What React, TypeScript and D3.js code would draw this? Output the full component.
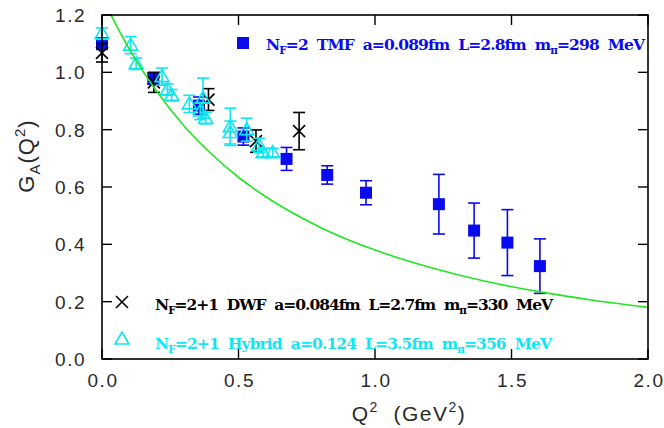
import React from "react";
import * as d3 from "d3";

// Axial form factor G_A(Q^2) from three lattice ensembles plus a dipole curve.
const TMF_Q2 = [0.0, 0.188, 0.355, 0.518, 0.676, 0.825, 0.967, 1.234, 1.363, 1.485, 1.604];
const TMF_GA = [1.10, 0.978, 0.884, 0.776, 0.698, 0.642, 0.580, 0.540, 0.448, 0.406, 0.324];
const TMF_ERR = [0.02, 0.02, 0.03, 0.03, 0.04, 0.032, 0.042, 0.104, 0.096, 0.115, 0.095];

const DWF_Q2 = [0.0, 0.19, 0.39, 0.564, 0.722];
const DWF_GA = [1.068, 0.965, 0.905, 0.76, 0.795];
const DWF_ERR = [0.032, 0.035, 0.038, 0.039, 0.065];

const HYB_Q2 = [0.0, 0.105, 0.125, 0.22, 0.24, 0.255, 0.32, 0.37, 0.36, 0.38, 0.47, 0.47, 0.53, 0.575, 0.59, 0.625];
const HYB_GA = [1.135, 1.095, 1.03, 0.985, 0.94, 0.92, 0.89, 0.91, 0.865, 0.84, 0.81, 0.79, 0.80, 0.745, 0.72, 0.72];
const HYB_ERR = [0.02, 0.03, 0.02, 0.03, 0.02, 0.02, 0.03, 0.07, 0.03, 0.02, 0.065, 0.04, 0.04, 0.025, 0.015, 0.015];

const CURVE_Q2 = [0.033, 0.1, 0.2, 0.3, 0.4, 0.5, 0.6, 0.8, 1.0, 1.2, 1.4, 1.6, 1.8, 2.0];
const CURVE_GA = [1.2, 1.081, 0.934, 0.814, 0.716, 0.634, 0.566, 0.459, 0.38, 0.32, 0.272, 0.235, 0.205, 0.18];

const X_TICKS = [0, 0.5, 1.0, 1.5, 2.0];
const Y_TICKS = [0, 0.2, 0.4, 0.6, 0.8, 1.0, 1.2];

const W = 664;
const H = 428;
const LEFT = 102;
const RIGHT = 648;
const TOP = 15;
const BOTTOM = 359;

const BLUE = "#0a0af0";
const CYAN = "#10e6f0";
const GREEN = "#22e622";

const x = d3.scaleLinear().domain([0, 2]).range([LEFT, RIGHT]);
const y = d3.scaleLinear().domain([0, 1.2]).range([BOTTOM, TOP]);

const curvePath = d3
  .line<number>()
  .x((_, i) => x(CURVE_Q2[i]))
  .y((_, i) => y(CURVE_GA[i]))
  .curve(d3.curveMonotoneX)(CURVE_GA) as string;

const CAP = 6;

function ErrBar({ q, g, e, color }: { q: number; g: number; e: number; color: string }) {
  const cx = x(q);
  const y1 = y(g + e);
  const y2 = y(g - e);
  return (
    <g stroke={color} strokeWidth={1.6}>
      <line x1={cx} x2={cx} y1={y1} y2={y2} />
      <line x1={cx - CAP} x2={cx + CAP} y1={y1} y2={y1} />
      <line x1={cx - CAP} x2={cx + CAP} y1={y2} y2={y2} />
    </g>
  );
}

const triPath = (cx: number, cy: number) =>
  `M${cx},${cy - 7}L${cx + 7},${cy + 5}L${cx - 7},${cy + 5}Z`;
const crossPath = (cx: number, cy: number) =>
  `M${cx - 6},${cy - 6}L${cx + 6},${cy + 6}M${cx - 6},${cy + 6}L${cx + 6},${cy - 6}`;

const legendFont = "'DejaVu Serif', 'Liberation Serif', serif";
const axisFont = "'Liberation Sans', Arial, sans-serif";

function LegendText({
  px,
  py,
  pre,
  mid,
  color,
  len,
}: {
  px: number;
  py: number;
  pre: string;
  mid: string;
  color: string;
  len: number;
}) {
  return (
    <text
      x={px}
      y={py}
      fill={color}
      fontFamily={legendFont}
      fontWeight="bold"
      fontSize={15.5}
      style={{ whiteSpace: "pre" }}
      textLength={len}
      lengthAdjust="spacing"
    >
      <tspan>N</tspan>
      <tspan fontSize={10.5} dy={4}>F</tspan>
      <tspan dy={-4}>{pre}</tspan>
      <tspan>m</tspan>
      <tspan fontSize={10.5} dy={4}>π</tspan>
      <tspan dy={-4}>{mid}</tspan>
    </text>
  );
}

export default function App() {
  return (
    <svg
      width={W}
      height={H}
      viewBox={`0 0 ${W} ${H}`}
      style={{ position: "absolute", left: 0, top: 0, background: "#fff" }}
    >
      <defs>
        <clipPath id="plot">
          <rect x={LEFT} y={TOP} width={RIGHT - LEFT} height={BOTTOM - TOP} />
        </clipPath>
      </defs>

      {/* TMF squares */}
      <g>
        {TMF_Q2.map((q, i) => (
          <ErrBar key={"te" + i} q={q} g={TMF_GA[i]} e={TMF_ERR[i]} color={BLUE} />
        ))}
        {TMF_Q2.map((q, i) => (
          <rect key={"ts" + i} x={x(q) - 6} y={y(TMF_GA[i]) - 6} width={12} height={12} fill={BLUE} />
        ))}
      </g>

      {/* DWF crosses */}
      <g>
        {DWF_Q2.map((q, i) => (
          <ErrBar key={"de" + i} q={q} g={DWF_GA[i]} e={DWF_ERR[i]} color="#000" />
        ))}
        {DWF_Q2.map((q, i) => (
          <path key={"dx" + i} d={crossPath(x(q), y(DWF_GA[i]))} stroke="#000" strokeWidth={1.6} fill="none" />
        ))}
      </g>

      {/* Hybrid triangles */}
      <g>
        {HYB_Q2.map((q, i) => (
          <ErrBar key={"he" + i} q={q} g={HYB_GA[i]} e={HYB_ERR[i]} color={CYAN} />
        ))}
        {HYB_Q2.map((q, i) => (
          <path key={"ht" + i} d={triPath(x(q), y(HYB_GA[i]))} stroke={CYAN} strokeWidth={1.6} fill="none" />
        ))}
      </g>

      {/* dipole curve */}
      <path d={curvePath} fill="none" stroke={GREEN} strokeWidth={1.6} clipPath="url(#plot)" />

      {/* frame and inward ticks */}
      <rect x={LEFT} y={TOP} width={RIGHT - LEFT} height={BOTTOM - TOP} fill="none" stroke="#000" strokeWidth={1.6} />
      {X_TICKS.map((t) => (
        <g key={"xt" + t} stroke="#000" strokeWidth={1.4}>
          <line x1={x(t)} x2={x(t)} y1={BOTTOM} y2={BOTTOM - 10} />
          <line x1={x(t)} x2={x(t)} y1={TOP} y2={TOP + 10} />
        </g>
      ))}
      {Y_TICKS.map((t) => (
        <g key={"yt" + t} stroke="#000" strokeWidth={1.4}>
          <line x1={LEFT} x2={LEFT + 10} y1={y(t)} y2={y(t)} />
          <line x1={RIGHT} x2={RIGHT - 10} y1={y(t)} y2={y(t)} />
        </g>
      ))}

      {/* tick labels */}
      <g fontFamily={axisFont} fontSize={19} fill="#2a2a2a" letterSpacing={1.5}>
        {X_TICKS.map((t) => (
          <text key={"xl" + t} x={x(t) + 1} y={387} textAnchor="middle">
            {t.toFixed(1)}
          </text>
        ))}
        {Y_TICKS.map((t) => (
          <text key={"yl" + t} x={86} y={y(t) + 7} textAnchor="end">
            {t.toFixed(1)}
          </text>
        ))}
      </g>

      {/* axis titles */}
      <text x={409} y={421} textAnchor="middle" fontFamily={axisFont} fontSize={21} fill="#2a2a2a" letterSpacing={1.5} style={{ whiteSpace: "pre" }}>
        <tspan>Q</tspan>
        <tspan fontSize={14} dy={-9}>2</tspan>
        <tspan dy={9}>{"  (GeV"}</tspan>
        <tspan fontSize={14} dy={-9}>2</tspan>
        <tspan dy={9}>)</tspan>
      </text>
      <text
        transform="translate(34,156) rotate(-90)"
        textAnchor="middle"
        fontFamily={axisFont}
        fontSize={22}
        fill="#2a2a2a"
        letterSpacing={1}
      >
        <tspan>G</tspan>
        <tspan fontSize={15} dy={6}>A</tspan>
        <tspan dy={-6}>(Q</tspan>
        <tspan fontSize={15} dy={-9}>2</tspan>
        <tspan dy={9}>)</tspan>
      </text>

      {/* legend */}
      <rect x={237} y={37} width={12} height={12} fill={BLUE} />
      <LegendText px={266} py={50} pre="=2  TMF  a=0.089fm  L=2.8fm  " mid="=298  MeV" color={BLUE} len={379} />

      <path d={crossPath(122, 302)} stroke="#000" strokeWidth={1.6} fill="none" />
      <LegendText px={155} py={310} pre="=2+1  DWF  a=0.084fm  L=2.7fm  " mid="=330  MeV" color="#000" len={398} />

      <path d={triPath(122, 339)} stroke={CYAN} strokeWidth={1.6} fill="none" />
      <LegendText px={155} py={349} pre="=2+1  Hybrid  a=0.124  L=3.5fm  " mid="=356  MeV" color={CYAN} len={397} />
    </svg>
  );
}
